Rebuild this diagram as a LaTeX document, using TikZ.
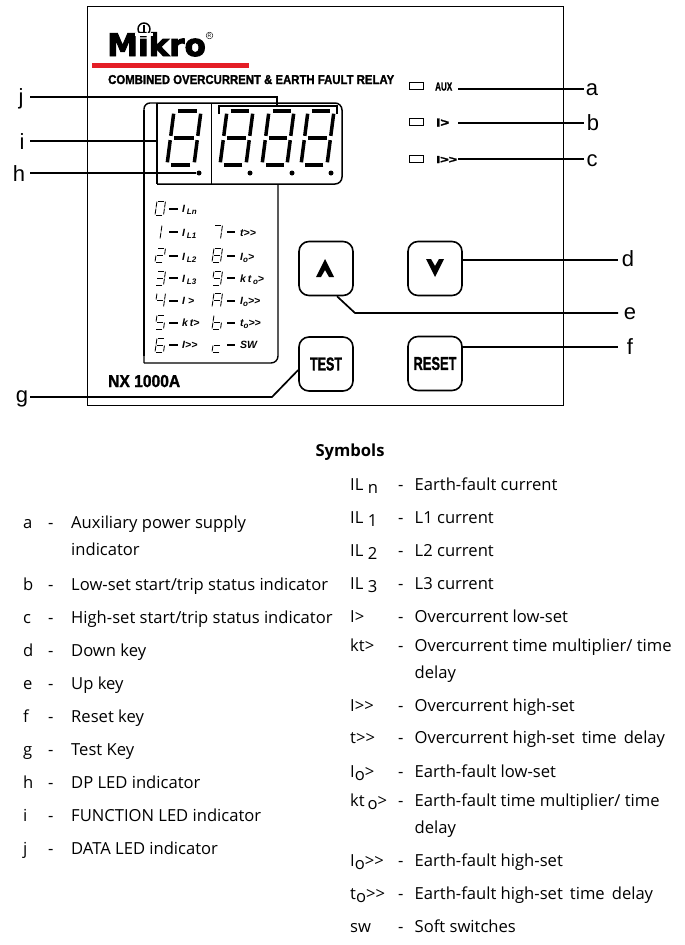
\documentclass[tikz,border=0pt]{standalone}
\usepackage{fontspec}
\usepackage{graphicx}
\setmainfont{Open Sans}
\newfontfamily\hv[BoldFeatures={FakeBold=1.6}]{Liberation Sans}
\newfontfamily\logof[BoldFeatures={FakeBold=3}]{DejaVu Sans}
\definecolor{logored}{RGB}{228,30,38}
\tikzset{
  x=1pt,y=-1pt,
  leader/.style={line width=1.7pt,line join=miter},
  keyl/.style={font=\hv\fontsize{22}{22}\selectfont,inner sep=0pt,anchor=base},
  body/.style={font=\fontsize{16.6}{18}\selectfont,inner sep=0pt,anchor=base west},
  btn/.style={draw,line width=1.6pt,rounded corners=10pt,minimum width=54pt,minimum height=54pt,inner sep=0pt,font=\hv\bfseries},
  led/.style={draw,line width=1.3pt,minimum width=14pt,minimum height=7.5pt,inner sep=0pt},
  lbl/.style={inner sep=0pt,anchor=base west,font=\hv\bfseries},
  small/.style={inner sep=0pt,anchor=base west,font=\hv\bfseries\itshape\fontsize{10.5}{10.5}\selectfont},
}
\def\sega{\draw (.14,0)--(.86,0);}
\def\segb{\draw (1,.05)--(1,.46);}
\def\segc{\draw (1,.54)--(1,.95);}
\def\segd{\draw (.86,1)--(.14,1);}
\def\sege{\draw (0,.95)--(0,.54);}
\def\segf{\draw (0,.46)--(0,.05);}
\def\segg{\draw (.14,.5)--(.86,.5);}
% top-left x, top y, width, height, slant, line width, segments
\newcommand\sdig[7]{\begin{scope}[shift={(#1,#2)},x={(#3pt,0pt)},y={(-#5pt,-#4pt)},line width=#6pt]
  \foreach \k in {#7}{\csname seg\k\endcsname}\end{scope}}
\newcommand\smd[3]{\sdig{#1}{#2}{8.5}{14}{2}{0.85}{#3}}
\newcommand\sub[1]{\raisebox{-2pt}{\fontsize{8}{8}\selectfont #1}}
\newcommand\dn[1]{\raisebox{-3pt}{#1}}
\newcommand\leg[5]{\node[body] (k#1) at (23,#4) {#2};\node[body] (s#1) at (48,#4) {-};\node[body] (t#1) at (71,#4) {#3};}
\newcommand\sym[4]{\node[body] (yk#1) at (350,#4) {#2};\node[body] (ys#1) at (398,#4) {-};\node[body] (yt#1) at (414.5,#4) {#3};}
\begin{document}
\begin{tikzpicture}
\useasboundingbox (0,0) rectangle (685,945);
\fill[white] (0,0) rectangle (685,945);
% panel
\draw[line width=0.8pt] (87,6) rectangle (563,405);
% logo
\node[inner sep=0pt,anchor=base west,font=\logof\bfseries\fontsize{31}{31}\selectfont] (logo) at (107,56) {Mikro};
\fill[logored] (92,63) rectangle (249,68);
\draw[line width=1.4pt] (144,29) circle (6);
\fill (142.7,25) rectangle (145.3,33);
\fill[white] (135,36) rectangle (153,32.5);
\node[draw,circle,line width=0.4pt,inner sep=0.6pt,font=\hv\fontsize{5}{5}\selectfont] (reg) at (209.5,35.5) {R};
\node[lbl] (title) at (108,84) {\resizebox{286pt}{9pt}{COMBINED OVERCURRENT \& EARTH FAULT RELAY}};
\node[lbl] (model) at (108,387) {\resizebox{72pt}{12pt}{NX 1000A}};
% display frame
\draw[line width=1.4pt,rounded corners=7pt] (144,363) -- (278,363) -- (278,184);
\draw[line width=1.4pt,rounded corners=6pt] (144,363) -- (144,103) -- (157,103);
\draw[line width=1.4pt] (144,110) -- (144,356);
\draw[line width=1.5pt,rounded corners=7pt] (157,103) -- (342,103) -- (342,184) -- (157,184);
\draw[line width=1.4pt] (157,103) -- (157,184);
\draw[line width=1pt] (211,103) -- (211,184);
% big digits
\sdig{174}{111}{27}{54}{7}{3.5}{a,b,c,d,e,f,g}
\sdig{227}{111}{26}{54}{7}{3.5}{a,b,c,d,e,f,g}
\sdig{269}{111}{25}{54}{7}{3.5}{a,b,c,d,e,f,g}
\sdig{308}{111}{26}{54}{7}{3.5}{a,b,c,d,e,f,g}
\fill (199,173) circle (2.5);
\fill (250,173) circle (2.5);
\fill (292,173) circle (2.5);
\fill (331,173) circle (2.5);
% bracket
\draw[line width=1.6pt] (219,114) -- (219,106) -- (337,106) -- (337,114);
% small table
\smd{157}{201}{a,b,c,d,e,f}
\smd{162}{225}{e,f}
\smd{157}{248}{a,b,g,e,d}
\smd{157}{271}{a,b,g,c,d}
\smd{157}{293}{f,g,b,c}
\smd{157}{315}{a,f,g,c,d}
\smd{157}{338}{a,f,g,e,d,c}
\smd{214}{225}{a,b,c}
\smd{214}{248}{a,b,c,d,e,f,g}
\smd{214}{271}{a,b,f,g,c,d}
\smd{214}{293}{a,b,c,e,f,g}
\smd{214}{315}{f,g,e,d,c}
\smd{214}{338}{g,e,d}
\foreach \n/\a/\b/\yy in {d0/169/178/209,d1/169/178/232,d2/169/178/256,d3/169/178/278,d4/169/178/301,d5/169/178/323,d6/169/178/345,e1/227/235/232,e2/227/235/256,e3/227/235/278,e4/227/235/301,e5/227/235/323,e6/227/235/345}{
  \draw[line width=1.1pt] (\a,\yy) -- (\b,\yy);}
\node[small] (r0) at (182,212.5) {I\,\sub{Ln}};
\node[small] (r1) at (182,236) {I\,\sub{L1}};
\node[small] (r2) at (182,260) {I\,\sub{L2}};
\node[small] (r3) at (182,282) {I\,\sub{L3}};
\node[small] (r4) at (182,304.5) {I >};
\node[small] (r5) at (182,326.5) {k\,t>};
\node[small] (r6) at (182,348.5) {I>>};
\node[small] (q1) at (240,236) {t>>};
\node[small] (q2) at (240,260) {I\sub{o}>};
\node[small] (q3) at (240,282) {k\,t\,\sub{o}>};
\node[small] (q4) at (240,304.5) {I\sub{o}>>};
\node[small] (q5) at (240,326.5) {t\sub{o}>>};
\node[small] (q6) at (240,348.5) {SW};
% LEDs
\node[led] (ledA) at (416.5,86) {};
\node[led] (ledB) at (416.5,122) {};
\node[led] (ledC) at (416.5,159) {};
\node[lbl] (tA) at (435,90.5) {\resizebox{17pt}{8pt}{AUX}};
\node[lbl] (tB) at (436,126.5) {\resizebox{13pt}{8pt}{I>}};
\node[lbl] (tC) at (436,163) {\resizebox{21pt}{7pt}{I>>}};
% buttons
\node[btn] (up) at (326,268.5) {};
\node[btn] (down) at (435,268.5) {};
\node[btn] (test) at (326,364) {\resizebox{32pt}{13pt}{TEST}};
\node[btn] (reset) at (435,363.5) {\resizebox{43pt}{13pt}{RESET}};
\fill (325,259) -- (334,277) -- (329,277) -- (325,270) -- (321,277) -- (316,277) -- cycle;
\fill (435,277) -- (426,259) -- (431,259) -- (435,266) -- (439,259) -- (444,259) -- cycle;
% key letters
\node[keyl] (la) at (592,95) {a};
\node[keyl] (lb) at (593,130) {b};
\node[keyl] (lc) at (592,166) {c};
\node[keyl] (ld) at (628,266) {d};
\node[keyl] (le) at (630,319) {e};
\node[keyl] (lf) at (630,354) {f};
\node[keyl] (lg) at (22,402) {g};
\node[keyl] (lh) at (19,181) {h};
\node[keyl] (li) at (22,149) {i};
\node[keyl] (lj) at (21,104) {j};
% connector ends
\coordinate (ca) at (458,89);
\coordinate (cb) at (458,123);
\coordinate (cc) at (458,159);
\coordinate (ea) at (584,89);
\coordinate (eb) at (584,123);
\coordinate (ec) at (584,159);
\coordinate (cd) at (618,260);
\coordinate (ce) at (618,313);
\coordinate (cf) at (618,347);
\coordinate (cg) at (30,397);
\coordinate (ch) at (30,173);
\coordinate (ci) at (30,141);
\coordinate (cj) at (30,97);
\draw[leader] (ca) -- (ea);
\draw[leader] (cb) -- (eb);
\draw[leader] (cc) -- (ec);
\draw[leader] (down.east |- cd) -- (cd);
\draw[leader] ([xshift=11pt]up.south) -- (355,313) -- (ce);
\draw[leader] (reset.east |- cf) -- (cf);
\draw[leader] ([yshift=-6pt]test.west) -- (272,397) -- (cg);
\draw[leader] (ch) -- (196,173);
\draw[leader] (ci) -- (157,141);
\draw[leader] (cj) -- (277,97) -- (277,106);
% legend
\node[font=\fontsize{16.6}{18}\selectfont\bfseries,inner sep=0pt,anchor=base] (symt) at (350,456) {Symbols};
\leg{a}{a}{Auxiliary power supply}{528}{}
\node[body] (ta2) at (71,555) {indicator};
\leg{b}{b}{Low-set start/trip status indicator}{590}{}
\leg{c}{c}{High-set start/trip status indicator}{623}{}
\leg{d}{d}{Down key}{656}{}
\leg{e}{e}{Up key}{689}{}
\leg{f}{f}{Reset key}{722}{}
\leg{g}{g}{Test Key}{755}{}
\leg{h}{h}{DP LED indicator}{788}{}
\leg{i}{i}{FUNCTION LED indicator}{821}{}
\leg{j}{j}{DATA LED indicator}{854}{}
\sym{1}{IL \dn{n}}{Earth-fault current}{490}
\sym{2}{IL \dn{1}}{L1 current}{523}
\sym{3}{IL \dn{2}}{L2 current}{556}
\sym{4}{IL \dn{3}}{L3 current}{589}
\sym{5}{I>}{Overcurrent low-set}{622}
\sym{6}{kt>}{Overcurrent time multiplier/ time}{651}
\node[body] (yt6b) at (414.5,678) {delay};
\sym{7}{I{>}{>}}{Overcurrent high-set}{711}
\sym{8}{t{>}{>}}{Overcurrent high-set\, time\, delay}{743}
\sym{9}{I\dn{o}>}{Earth-fault low-set}{777}
\sym{10}{kt\,\dn{o}>}{Earth-fault time multiplier/ time}{806}
\node[body] (yt10b) at (414.5,833) {delay};
\sym{11}{I\dn{o}{>}{>}}{Earth-fault high-set}{866}
\sym{12}{t\dn{o}{>}{>}}{Earth-fault high-set\, time\, delay}{899}
\sym{13}{sw}{Soft switches}{932}
\end{tikzpicture}
\end{document}
